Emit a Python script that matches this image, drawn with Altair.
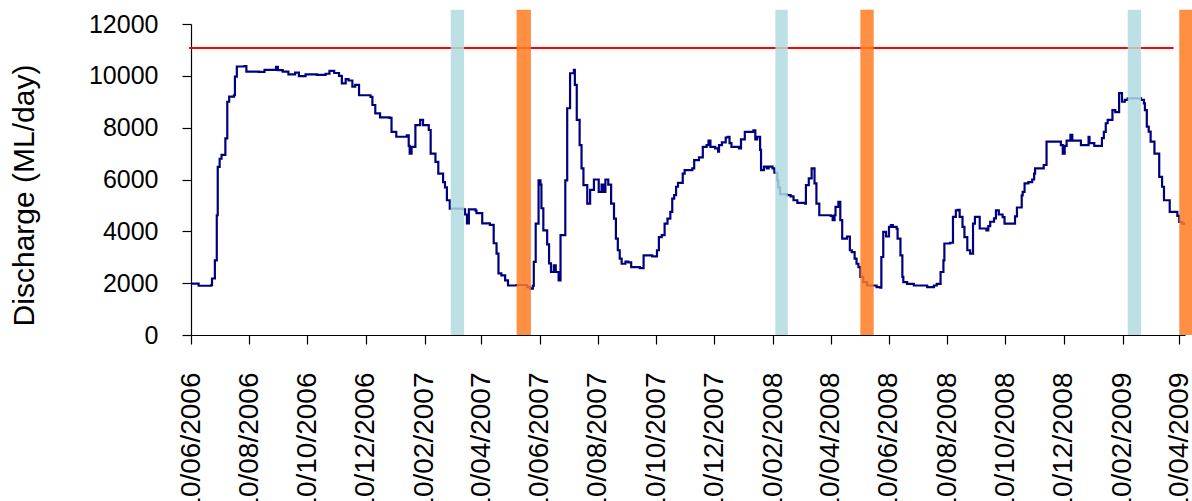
import altair as alt
import pandas as pd

# Daily river discharge (ML/day), recorded at each change of step
flow_dates = [
    "2006-06-10", "2006-06-18", "2006-07-01", "2006-07-02", "2006-07-05", "2006-07-07",
    "2006-07-08", "2006-07-10", "2006-07-12", "2006-07-16", "2006-07-18", "2006-07-20",
    "2006-07-25", "2006-07-26", "2006-07-28", "2006-08-05", "2006-08-07", "2006-08-20",
    "2006-08-26", "2006-09-07", "2006-09-09", "2006-09-14", "2006-09-20", "2006-09-27",
    "2006-10-01", "2006-10-08", "2006-10-20", "2006-10-29", "2006-11-02", "2006-11-07",
    "2006-11-12", "2006-11-15", "2006-11-19", "2006-11-22", "2006-11-26", "2006-11-29",
    "2006-12-03", "2006-12-15", "2006-12-17", "2006-12-20", "2006-12-25",
    "2007-01-04", "2007-01-06", "2007-01-11", "2007-01-22", "2007-01-24", "2007-01-25",
    "2007-01-27", "2007-01-31", "2007-02-05", "2007-02-08", "2007-02-14", "2007-02-16",
    "2007-02-21", "2007-02-24", "2007-03-01", "2007-03-03", "2007-03-05", "2007-03-08",
    "2007-03-22", "2007-03-24", "2007-03-26", "2007-03-28", "2007-04-04", "2007-04-05",
    "2007-04-11", "2007-04-19", "2007-04-23", "2007-04-26", "2007-04-28", "2007-05-01",
    "2007-05-05", "2007-05-08", "2007-05-17", "2007-05-28", "2007-05-31", "2007-06-03",
    "2007-06-04", "2007-06-06", "2007-06-09", "2007-06-11", "2007-06-12", "2007-06-14",
    "2007-06-18", "2007-06-20", "2007-06-22", "2007-06-25", "2007-06-27", "2007-06-30",
    "2007-07-02", "2007-07-07", "2007-07-09", "2007-07-12", "2007-07-16", "2007-07-17",
    "2007-07-19", "2007-07-22", "2007-07-24", "2007-07-26", "2007-07-30", "2007-08-02",
    "2007-08-06", "2007-08-11", "2007-08-14", "2007-08-16", "2007-08-18", "2007-08-21",
    "2007-08-24", "2007-08-27", "2007-08-29", "2007-08-31", "2007-09-02", "2007-09-04",
    "2007-09-08", "2007-09-11", "2007-09-14", "2007-09-23", "2007-09-27", "2007-10-06",
    "2007-10-11", "2007-10-13", "2007-10-16", "2007-10-19", "2007-10-22", "2007-10-25",
    "2007-10-27", "2007-10-29", "2007-10-31", "2007-11-02", "2007-11-07", "2007-11-09",
    "2007-11-17", "2007-11-19", "2007-11-24", "2007-11-28", "2007-12-02", "2007-12-04",
    "2007-12-06", "2007-12-11", "2007-12-14", "2007-12-15", "2007-12-18", "2007-12-22",
    "2007-12-24", "2007-12-26", "2007-12-28",
    "2008-01-05", "2008-01-07", "2008-01-11", "2008-01-20", "2008-01-22", "2008-01-24",
    "2008-01-27", "2008-01-28", "2008-01-31", "2008-02-03", "2008-02-05", "2008-02-09",
    "2008-02-11", "2008-02-14", "2008-02-15", "2008-02-17", "2008-02-24", "2008-02-28",
    "2008-03-02", "2008-03-06", "2008-03-14", "2008-03-15", "2008-03-18", "2008-03-21",
    "2008-03-24", "2008-03-26", "2008-03-29", "2008-04-10", "2008-04-12", "2008-04-14",
    "2008-04-15", "2008-04-18", "2008-04-20", "2008-04-22", "2008-04-27", "2008-04-30",
    "2008-05-02", "2008-05-05", "2008-05-07", "2008-05-09", "2008-05-11", "2008-05-14",
    "2008-05-18", "2008-05-28", "2008-06-01", "2008-06-02", "2008-06-04", "2008-06-07",
    "2008-06-10", "2008-06-12", "2008-06-14", "2008-06-18", "2008-06-19", "2008-06-22",
    "2008-06-24", "2008-06-25", "2008-06-29", "2008-07-06", "2008-07-20", "2008-07-27",
    "2008-07-30", "2008-08-03", "2008-08-06", "2008-08-07", "2008-08-13", "2008-08-16",
    "2008-08-19", "2008-08-21", "2008-08-23", "2008-08-26", "2008-08-28", "2008-08-31",
    "2008-09-03", "2008-09-06", "2008-09-08", "2008-09-13", "2008-09-20", "2008-09-22",
    "2008-09-24", "2008-09-28", "2008-09-30", "2008-10-03", "2008-10-07", "2008-10-09",
    "2008-10-20", "2008-10-22", "2008-10-27", "2008-10-28", "2008-10-30", "2008-11-03",
    "2008-11-07", "2008-11-09", "2008-11-10", "2008-11-19", "2008-11-22", "2008-12-07",
    "2008-12-09", "2008-12-11", "2008-12-13", "2008-12-17", "2008-12-19", "2008-12-28",
    "2009-01-05", "2009-01-06", "2009-01-11", "2009-01-19", "2009-01-21", "2009-01-23",
    "2009-01-25", "2009-01-30", "2009-02-02", "2009-02-06", "2009-02-09", "2009-02-12",
    "2009-02-15", "2009-02-23", "2009-03-01", "2009-03-04", "2009-03-05", "2009-03-07",
    "2009-03-09", "2009-03-11", "2009-03-15", "2009-03-20", "2009-03-23", "2009-03-25",
    "2009-03-31", "2009-04-08", "2009-04-10", "2009-04-13", "2009-04-15",
]
flow_values = [
    1980, 1900, 1920, 2180, 2880, 4620,
    6490, 6800, 6950, 7590, 9000, 9200,
    9250, 9970, 10360, 10380, 10160, 10150,
    10230, 10350, 10220, 10160, 10060, 10120,
    9990, 10060, 10040, 10080, 10190, 10110,
    10000, 9710, 9870, 9820, 9580, 9650,
    9250, 9190, 8875, 8550, 8400,
    8380, 7840, 7650, 7700, 7300, 7000,
    7260, 8100, 8300, 8100, 7910, 7000,
    6680, 6230, 5900, 5700, 5200, 4880,
    4850, 4650, 4310, 4850, 4800, 4700,
    4310, 4250, 3540, 3140, 2380, 2300,
    2110, 1910, 1930, 1850, 1790, 1900,
    2820, 4300, 5970, 5800, 4890, 4040,
    3500, 2760, 2430, 2690, 2430, 2110,
    3850, 5970, 8750, 10100, 10230, 9650,
    8300, 7330, 6430, 5780, 5070, 5600,
    6000, 5520, 5800, 5520, 6000, 5800,
    5070, 4490, 3720, 3270, 2950, 2750,
    2830, 2800, 2620, 2580, 3070, 3030,
    3270, 3780, 3850, 4300, 4490, 4750,
    5260, 5400, 5720, 5870, 6230, 6360,
    6430, 6750, 6850, 7260, 7330, 7500,
    7260, 7200, 7070, 7330, 7430, 7620,
    7650, 7400, 7260,
    7200, 7550, 7840, 7900, 7550, 7650,
    7140, 6360, 6500, 6430, 6500, 6430,
    6260, 5970, 5700, 5430, 5400, 5350,
    5200, 5100, 5070, 5780, 6040, 6430,
    5850, 5070, 4620, 4600, 4430, 4620,
    4940, 5140, 4430, 3720, 3800, 3270,
    3200, 2950, 2750, 2620, 2240, 2040,
    1910, 1850, 1830, 3010, 3980, 3800,
    4170, 4240, 4170, 4100, 3720, 3070,
    2240, 2040, 1970, 1910, 1850, 1910,
    1970, 2430, 2880, 3530, 3560, 4560,
    4810, 4830, 4560, 4170, 3780, 3270,
    3140, 4300, 4560, 4110, 4040, 4200,
    4370, 4500, 4810, 4650, 4550, 4300,
    4580, 4920, 5390, 5520, 5850, 5900,
    6000, 6230, 6430, 6560, 7460, 7330,
    7000, 7300, 7500, 7720, 7500, 7330,
    7650, 7400, 7300, 7600, 7840, 8170,
    8300, 8680, 8600, 9330, 9000, 9070,
    9130, 9130, 9070, 8940, 8680, 8040,
    7850, 7460, 7000, 6100, 5720, 5200,
    4750, 4600, 4360, 4300, 4250,
]

# Flood threshold line
threshold_start = ["2006-06-08"]
threshold_end = ["2009-04-04"]
threshold_level = [11070]

# Highlighted periods
cyan_starts = ["2007-03-09", "2008-02-12", "2009-02-15"]
cyan_ends = ["2007-03-23", "2008-02-25", "2009-03-01"]
orange_starts = ["2007-05-17", "2008-05-11", "2009-04-10"]
orange_ends = ["2007-06-01", "2008-05-25", "2009-04-24"]
band_floor = 0
band_top = 12550

# Axis ticks
x_tick_dates = [
    (2006, 6), (2006, 8), (2006, 10), (2006, 12), (2007, 2), (2007, 4),
    (2007, 6), (2007, 8), (2007, 10), (2007, 12), (2008, 2), (2008, 4),
    (2008, 6), (2008, 8), (2008, 10), (2008, 12), (2009, 2), (2009, 4),
]
y_ticks = [0, 2000, 4000, 6000, 8000, 10000, 12000]

flow = pd.DataFrame({"date": flow_dates, "discharge": flow_values})
threshold = pd.DataFrame({"start": threshold_start, "end": threshold_end, "level": threshold_level})
cyan = pd.DataFrame({"start": cyan_starts, "end": cyan_ends,
                     "lo": [band_floor] * len(cyan_starts), "hi": [band_top] * len(cyan_starts)})
orange = pd.DataFrame({"start": orange_starts, "end": orange_ends,
                       "lo": [band_floor] * len(orange_starts), "hi": [band_top] * len(orange_starts)})

FONT = "Liberation Sans"

x_scale = alt.Scale(
    type="utc",
    domain=[alt.DateTime(year=2006, month=6, date=10, utc=True),
            alt.DateTime(year=2009, month=4, date=16, utc=True)],
)
y_scale = alt.Scale(domain=[0, 12000], nice=False, zero=True)

x_axis = alt.Axis(
    title="",
    values=[alt.DateTime(year=y, month=m, date=10, utc=True) for y, m in x_tick_dates],
    format="%d/%m/%Y",
    labelAngle=270,
    labelFontSize=28,
    labelPadding=28,
    labelFlush=False,
    labelOverlap=False,
    labelBound=False,
    tickSize=9,
    grid=False,
)
y_axis = alt.Axis(
    title="Discharge (ML/day)",
    values=y_ticks,
    format="d",
    labelFontSize=25,
    labelPadding=24,
    tickSize=9,
    grid=False,
    titleFontSize=30,
    titleFontWeight="normal",
    titleAngle=270,
    titleAlign="center",
    titleBaseline="middle",
    titleX=-167,
    titleY=171,
)

line = alt.Chart(flow).mark_line(
    interpolate="step-after", color="#00007f", strokeWidth=2.2, clip=False
).encode(
    x=alt.X("date:T", scale=x_scale, axis=x_axis),
    y=alt.Y("discharge:Q", scale=y_scale, axis=y_axis),
)

rule = alt.Chart(threshold).mark_rule(color="#ff0000", strokeWidth=2, clip=False).encode(
    x=alt.X("start:T", scale=x_scale, axis=x_axis),
    x2="end:T",
    y=alt.Y("level:Q", scale=y_scale, axis=y_axis),
)

cyan_bands = alt.Chart(cyan).mark_rect(color="#b0dade", opacity=0.85, clip=False).encode(
    x=alt.X("start:T", scale=x_scale, axis=x_axis),
    x2="end:T",
    y=alt.Y("lo:Q", scale=y_scale, axis=y_axis),
    y2="hi:Q",
)

orange_bands = alt.Chart(orange).mark_rect(color="#ff7b22", opacity=0.85, clip=False).encode(
    x=alt.X("start:T", scale=x_scale, axis=x_axis),
    x2="end:T",
    y=alt.Y("lo:Q", scale=y_scale, axis=y_axis),
    y2="hi:Q",
)

chart = alt.layer(line, rule, cyan_bands, orange_bands).properties(
    width=994,
    height=311,
    padding={"left": 191, "top": 24, "right": 7, "bottom": 166},
    autosize=alt.AutoSizeParams(type="none"),
    background="white",
).configure_axis(
    labelFont=FONT,
    titleFont=FONT,
    labelColor="#000000",
    titleColor="#000000",
    domainColor="#000000",
    tickColor="#000000",
    domainWidth=1.2,
    tickWidth=1.2,
).configure_view(stroke=None)

chart.save("out.html", embed_options={"renderer": "svg", "actions": False})
